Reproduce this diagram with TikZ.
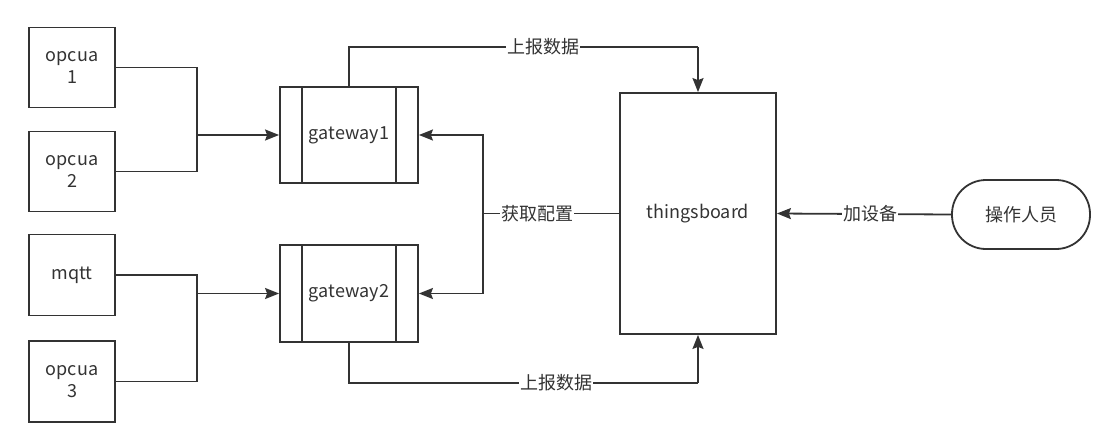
\documentclass[tikz,border=0pt]{standalone}
\usepackage{fontspec}
\setmainfont{Noto Sans CJK SC}
\usetikzlibrary{arrows.meta,calc}
\definecolor{ink}{HTML}{333333}
\tikzset{
  box/.style={draw=ink, line width=1.8pt, inner sep=0pt, align=center, text=ink, font=\fontsize{18}{22}\selectfont},
  conn/.style={draw=ink, line width=1.8pt},
  arr/.style={conn, -{Stealth[length=14pt,width=11pt,inset=2pt]}},
  lab/.style={fill=white, inner sep=1pt, text=ink, font=\fontsize{18}{22}\selectfont},
}
\begin{document}
\begin{tikzpicture}[x=1pt,y=-1pt]
\useasboundingbox (0,0) rectangle (1120,445);
% sources
\node[box, minimum width=86pt, minimum height=80pt] (o1) at (72,67.5) {opcua\\1};
\node[box, minimum width=86pt, minimum height=80pt] (o2) at (72,171.5) {opcua\\2};
\node[box, minimum width=86pt, minimum height=81pt] (mq) at (72,275) {mqtt};
\node[box, minimum width=86pt, minimum height=81pt] (o3) at (72,381.5) {opcua\\3};
% gateways
\node[box, minimum width=138pt, minimum height=96pt] (g1) at (349,135) {gateway1};
\node[box, minimum width=138pt, minimum height=97pt] (g2) at (349,293.5) {gateway2};
\foreach \g in {g1,g2}{
  \draw[conn] ([xshift=23pt]\g.north west) -- ([xshift=23pt]\g.south west);
  \draw[conn] ([xshift=-23pt]\g.north east) -- ([xshift=-23pt]\g.south east);
}
% thingsboard
\node[box, minimum width=156pt, minimum height=241pt] (tb) at (698,213.5) {thingsboard};
% operator
\node[box, rounded corners=34pt, minimum width=138pt, minimum height=69pt] (op) at (1021,214.5) {操作人员};
% junctions
\coordinate (j1) at (197,135);
\coordinate (j2) at (197,293.5);
\coordinate (jc) at (483,213.5);
\coordinate (top) at (698,47);
\coordinate (bot) at (698,383);
% source connectors
\draw[conn] (o1.east) -| (j1);
\draw[conn] (o2.east) -| (j1);
\draw[arr] (j1) -- (g1.west);
\draw[conn] (mq.east) -| (j2);
\draw[conn] (o3.east) -| (j2);
\draw[arr] (j2) -- (g2.west);
% report data
\draw[conn] (g1.north) |- (top);
\draw[arr] (top) -- (tb.north);
\node[lab] (l1) at (543,47) {上报数据};
\draw[conn] (g2.south) |- (bot);
\draw[arr] (bot) -- (tb.south);
\node[lab] (l2) at (556,383) {上报数据};
% config
\draw[conn] (tb.west) -- (jc);
\draw[arr] (jc) |- (g1.east);
\draw[arr] (jc) |- (g2.east);
\node[lab] (l3) at (537,213.5) {获取配置};
% operator
\draw[arr] (op.west) -- (tb.east);
\node[lab] (l4) at (870,213.5) {加设备};
\end{tikzpicture}
\end{document}
